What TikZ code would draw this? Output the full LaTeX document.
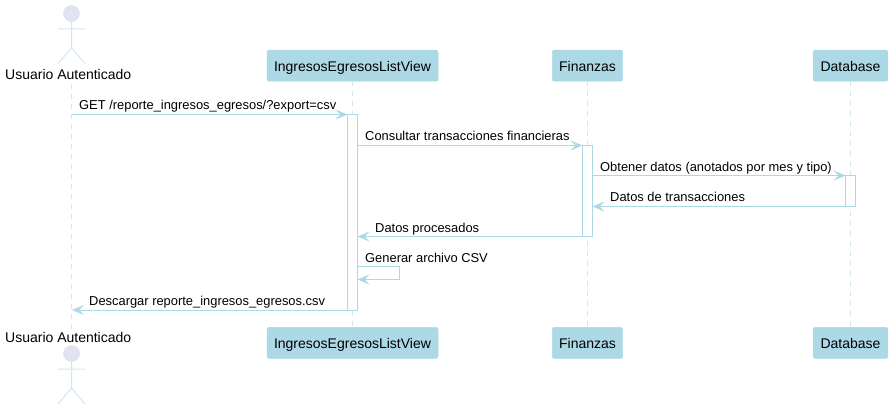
\documentclass[tikz,border=0pt]{standalone}
\usepackage{fontspec}
\setmainfont{Liberation Sans}
\usetikzlibrary{arrows.meta}
\definecolor{lb}{HTML}{ADD8E6}
\definecolor{actorfill}{HTML}{E2E2F0}
\definecolor{lifec}{HTML}{CFE8F0}
\tikzset{
  part/.style={draw=lb,fill=lb,rounded corners=2pt,line width=.5pt,minimum height=31pt,inner sep=0pt,text height=14pt,text depth=3pt,font=\fontsize{14}{14}\selectfont,text=black},
  actname/.style={anchor=base,inner sep=0pt,font=\fontsize{14}{14}\selectfont,text=black},
  life/.style={draw=lifec,line width=1pt,dash pattern=on 5pt off 5pt},
  bar/.style={draw=lb,fill=white,line width=1pt,minimum width=10pt,inner sep=0pt,outer sep=0pt,anchor=north},
  msg/.style={draw=lb,line width=1pt,-{Stealth[length=12pt,width=10pt,inset=5pt,fill=lb]}},
  lbl/.style={anchor=base west,inner sep=0pt,font=\fontsize{12.9}{13}\selectfont,text=black},
  stick/.style={draw=lifec,line width=1pt},
  head/.style={circle,draw=lifec,fill=actorfill,line width=.5pt,minimum size=16pt,inner sep=0pt}
}
\begin{document}
\begin{tikzpicture}[x=1pt,y=-1pt]
\useasboundingbox (0,0) rectangle (893,409);
% participants
\node[part,minimum width=171pt] (it) at (352.5,65.7) {IngresosEgresosListView};
\node[part,minimum width=70.4pt] (ft) at (587.5,65.7) {Finanzas};
\node[part,minimum width=74.6pt] (dt) at (850.5,65.7) {Database};
\node[part,minimum width=171pt] (ib) at (352.5,342.9) {IngresosEgresosListView};
\node[part,minimum width=70.4pt] (fb) at (587.5,342.9) {Finanzas};
\node[part,minimum width=74.6pt] (db) at (850.5,342.9) {Database};
\node[actname] (ut) at (68.2,80) {Usuario Autenticado};
\node[actname] (ub) at (68.2,342) {Usuario Autenticado};
% lifelines
\coordinate (ul1) at (71.5,84);
\coordinate (ul2) at (71.5,330);
\draw[life] (ul1) -- (ul2);
\draw[life] (it) -- (ib);
\draw[life] (ft) -- (fb);
\draw[life] (dt) -- (db);
% actors
\node[head] (h1) at (71.5,13.5) {};
\coordinate (b1) at (71.5,48);
\coordinate (a1l) at (58,29); \coordinate (a1r) at (85,29);
\coordinate (l1l) at (58,63.5); \coordinate (l1r) at (85,63.5);
\draw[stick] (h1) -- (b1) (a1l) -- (a1r) (l1l) -- (b1) -- (l1r);
\node[head] (h2) at (71.5,353.5) {};
\coordinate (b2) at (71.5,388);
\coordinate (a2l) at (58,369); \coordinate (a2r) at (85,369);
\coordinate (l2l) at (58,404); \coordinate (l2r) at (85,404);
\draw[stick] (h2) -- (b2) (a2l) -- (a2r) (l2l) -- (b2) -- (l2r);
% activations
\node[bar,minimum height=195.5pt] (ai) at (352.5,114.5) {};
\node[bar,minimum height=91pt] (af) at (587.5,145.5) {};
\node[bar,minimum height=31pt] (ad) at (850.5,175.5) {};
% messages
\coordinate (us1) at (71.5,114.5);
\coordinate (ue1) at (72,310);
\draw[msg] (us1) -- (ai.north west);
\draw[msg] (ai.east |- af.north) -- (af.north west);
\draw[msg] (af.east |- ad.north) -- (ad.north west);
\draw[msg] (ad.south west) -- (af.east |- ad.south);
\draw[msg] (af.south west) -- (ai.east |- af.south);
\coordinate (s1) at (399.5,266.5); \coordinate (s2) at (399.5,279.5);
\draw[msg] (ai.east |- s1) -- (s1) -- (s2) -- (ai.east |- s2);
\draw[msg] (ai.south west) -- (ue1);
% labels
\node[lbl] (m1) at (79,110) {GET /reporte\_ingresos\_egresos/?export=csv};
\node[lbl] (m2) at (365,140) {Consultar transacciones financieras};
\node[lbl] (m3) at (600,171) {Obtener datos (anotados por mes y tipo)};
\node[lbl] (m4) at (610,201) {Datos de transacciones};
\node[lbl] (m5) at (375,232) {Datos procesados};
\node[lbl] (m6) at (365,262) {Generar archivo CSV};
\node[lbl] (m7) at (89,305) {Descargar reporte\_ingresos\_egresos.csv};
\end{tikzpicture}
\end{document}
